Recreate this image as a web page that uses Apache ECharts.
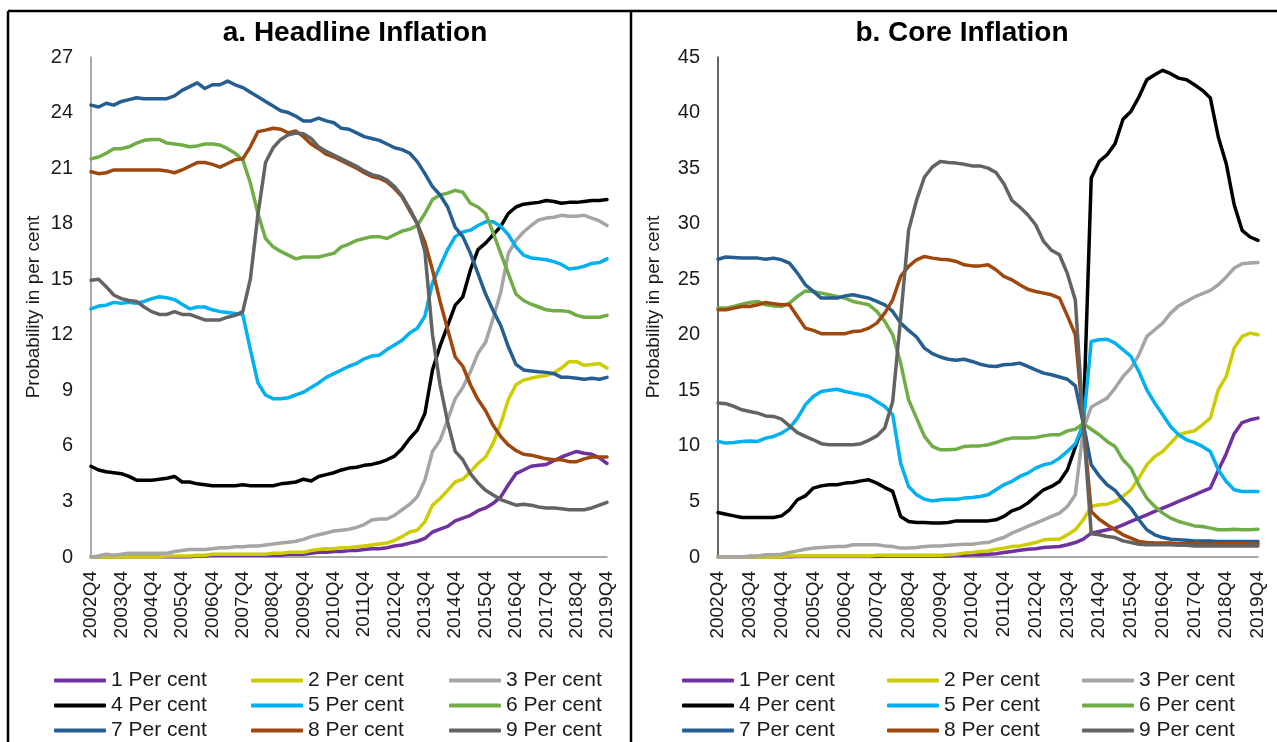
<!DOCTYPE html>
<html>
<head>
<meta charset="utf-8">
<title>Headline and Core Inflation</title>
<script src="https://cdn.jsdelivr.net/npm/echarts@6/dist/echarts.min.js"></script>
<style>
  html, body { margin: 0; padding: 0; background: #fff; }
  #chart { width: 1277px; height: 742px; }
</style>
</head>
<body>
<div id="chart"></div>
<script>
// quarters 2002Q4 .. 2019Q4
const quarters = ['2002Q4'];
for (let y = 2003; y <= 2019; y++) {
  for (let q = 1; q <= 4; q++) quarters.push(y + 'Q' + q);
}

const names = ['1 Per cent', '2 Per cent', '3 Per cent', '4 Per cent', '5 Per cent',
               '6 Per cent', '7 Per cent', '8 Per cent', '9 Per cent'];
const colors = ['#7030A0', '#CCCC00', '#A5A5A5', '#000000', '#00B0F0',
                '#70AD47', '#255E91', '#9E480E', '#636363'];

// a. Headline inflation
const head1 = [0,0,0,0,0,0,0,0,0,0,0,0,0,0,0.05,0.05,0.1,0.1,0.1,0.1,0.1,
  0.1,0.1,0.1,0.1,0.1,0.15,0.15,0.15,0.2,0.25,0.25,0.3,0.3,0.35,0.35,0.4,0.45,0.45,0.5,
  0.6,0.65,0.75,0.85,1.0,1.35,1.5,1.65,1.95,2.1,2.25,2.5,2.65,2.9,3.25,3.9,4.5,4.7,4.9,4.95,
  5.0,5.2,5.4,5.55,5.7,5.6,5.55,5.35,5.05];
const head2 = [0,0,0,0,0,0,0,0,0,0,0.05,0.05,0.05,0.05,0.1,0.1,0.15,0.15,0.15,0.15,0.15,
  0.15,0.15,0.15,0.2,0.2,0.25,0.25,0.25,0.35,0.4,0.45,0.45,0.5,0.5,0.55,0.6,0.65,0.7,0.75,
  0.9,1.1,1.35,1.45,1.9,2.8,3.15,3.6,4.05,4.2,4.6,5.05,5.4,6.15,7.2,8.5,9.3,9.55,9.65,9.75,
  9.8,9.95,10.2,10.55,10.55,10.35,10.4,10.45,10.2];
const head3 = [0,0.05,0.15,0.1,0.15,0.2,0.2,0.2,0.2,0.2,0.2,0.3,0.35,0.4,0.4,0.4,0.45,0.5,0.5,0.55,0.55,
  0.6,0.6,0.65,0.7,0.75,0.8,0.85,0.95,1.1,1.2,1.3,1.4,1.45,1.5,1.6,1.75,2.0,2.05,2.05,
  2.25,2.55,2.85,3.25,4.15,5.7,6.3,7.4,8.55,9.15,10.0,11.0,11.6,12.9,14.3,16.4,17.1,17.55,17.9,18.2,
  18.3,18.35,18.45,18.4,18.4,18.45,18.3,18.15,17.9];
const head4 = [4.9,4.7,4.6,4.55,4.5,4.35,4.15,4.15,4.15,4.2,4.25,4.35,4.05,4.05,3.95,3.9,3.85,3.85,3.85,3.85,3.9,
  3.85,3.85,3.85,3.85,3.95,4.0,4.05,4.2,4.1,4.35,4.45,4.55,4.7,4.8,4.85,4.95,5.0,5.1,5.25,
  5.45,5.85,6.4,6.85,7.75,10.1,11.4,12.5,13.6,14.05,15.5,16.6,16.95,17.4,17.85,18.55,18.9,19.05,19.1,19.15,
  19.25,19.2,19.1,19.15,19.15,19.2,19.25,19.25,19.3];
const head5 = [13.4,13.55,13.6,13.75,13.7,13.75,13.7,13.8,13.95,14.05,14.0,13.9,13.65,13.4,13.5,13.5,13.35,13.25,13.2,13.15,13.1,
  11.2,9.4,8.75,8.55,8.55,8.6,8.75,8.9,9.15,9.4,9.7,9.9,10.1,10.3,10.45,10.7,10.85,10.9,11.2,
  11.45,11.7,12.1,12.35,13.0,14.8,15.7,16.6,17.3,17.55,17.65,17.9,18.1,18.1,17.85,17.4,16.75,16.3,16.15,16.1,
  16.05,15.95,15.8,15.55,15.6,15.7,15.85,15.9,16.1];
const head6 = [21.5,21.6,21.8,22.05,22.05,22.15,22.35,22.5,22.55,22.55,22.35,22.3,22.25,22.15,22.2,22.3,22.3,22.25,22.05,21.8,21.45,
  20.2,18.55,17.2,16.75,16.5,16.3,16.1,16.2,16.2,16.2,16.3,16.4,16.75,16.9,17.1,17.2,17.3,17.3,17.2,
  17.4,17.6,17.7,17.9,18.55,19.3,19.55,19.65,19.8,19.7,19.1,18.9,18.55,17.5,16.4,15.3,14.2,13.85,13.65,13.5,
  13.35,13.3,13.3,13.25,13.05,12.95,12.95,12.95,13.05];
const head7 = [24.4,24.3,24.5,24.4,24.6,24.7,24.8,24.75,24.75,24.75,24.75,24.9,25.2,25.4,25.6,25.3,25.5,25.5,25.7,25.5,25.35,
  25.1,24.85,24.6,24.35,24.1,24.0,23.8,23.55,23.55,23.7,23.55,23.45,23.15,23.1,22.9,22.7,22.6,22.5,22.3,
  22.1,22.0,21.8,21.35,20.7,20.0,19.55,18.9,17.8,17.3,16.4,15.3,14.2,13.3,12.5,11.35,10.4,10.1,10.05,10.0,
  9.97,9.9,9.7,9.7,9.65,9.6,9.65,9.6,9.7];
const head8 = [20.8,20.7,20.75,20.9,20.9,20.9,20.9,20.9,20.9,20.9,20.85,20.75,20.9,21.1,21.3,21.3,21.2,21.05,21.25,21.45,21.5,
  22.15,22.97,23.05,23.15,23.1,22.9,23.0,22.7,22.3,22.05,21.75,21.6,21.4,21.2,21.0,20.75,20.55,20.45,20.25,
  19.9,19.45,18.7,18.0,17.0,15.5,13.8,12.3,10.8,10.3,9.3,8.5,7.9,7.1,6.5,6.05,5.75,5.55,5.5,5.4,
  5.3,5.25,5.25,5.15,5.15,5.3,5.4,5.4,5.4];
const head9 = [14.95,15.0,14.6,14.15,13.95,13.85,13.8,13.5,13.25,13.1,13.1,13.25,13.1,13.1,12.95,12.8,12.8,12.8,12.95,13.05,13.25,
  15.0,18.5,21.3,22.1,22.55,22.8,22.9,22.85,22.6,22.15,21.9,21.7,21.5,21.3,21.1,20.85,20.65,20.55,20.35,
  20.0,19.5,18.8,18.0,16.5,12.0,9.3,7.3,5.7,5.25,4.5,4.0,3.6,3.35,3.1,2.95,2.8,2.85,2.8,2.7,
  2.65,2.65,2.6,2.55,2.55,2.55,2.65,2.8,2.95];

// b. Core inflation
const core1 = [0,0,0,0,0,0,0,0,0,0,0.05,0.05,0.05,0.05,0.05,0.05,0.05,0.05,0.05,0.05,0.05,
  0.1,0.1,0.1,0.1,0.1,0.1,0.1,0.1,0.1,0.15,0.15,0.2,0.2,0.25,0.3,0.4,0.5,0.6,0.7,
  0.75,0.85,0.9,0.95,1.1,1.3,1.6,2.15,2.3,2.45,2.6,2.9,3.2,3.5,3.8,4.1,4.4,4.7,5.0,5.3,
  5.6,5.9,6.2,7.8,9.3,11.1,12.1,12.35,12.5];
const core2 = [0,0,0,0,0,0,0,0,0,0.1,0.1,0.1,0.1,0.1,0.1,0.1,0.1,0.1,0.1,0.1,0.15,
  0.15,0.15,0.15,0.15,0.15,0.15,0.15,0.15,0.2,0.25,0.35,0.4,0.5,0.55,0.7,0.8,0.95,1.0,1.15,
  1.3,1.55,1.6,1.6,2.0,2.45,3.35,4.55,4.7,4.75,5.0,5.45,6.05,7.1,8.3,9.05,9.5,10.25,11.0,11.2,
  11.35,11.9,12.5,15.05,16.25,18.8,19.85,20.15,20.0];
const core3 = [0,0,0,0,0.1,0.1,0.2,0.2,0.25,0.4,0.55,0.7,0.8,0.85,0.9,0.95,0.95,1.1,1.1,1.1,1.1,
  1.0,0.95,0.8,0.8,0.85,0.95,1.0,1.0,1.05,1.1,1.15,1.15,1.25,1.3,1.55,1.75,2.15,2.45,2.75,
  3.05,3.35,3.65,3.95,4.55,5.6,11.5,13.5,13.9,14.3,15.2,16.25,17.0,18.2,19.85,20.45,21.05,21.95,22.6,23.0,
  23.4,23.7,24.0,24.5,25.2,26.0,26.4,26.45,26.5];
const core4 = [4.0,3.85,3.7,3.55,3.55,3.55,3.55,3.55,3.7,4.25,5.15,5.5,6.2,6.4,6.5,6.5,6.65,6.7,6.85,6.95,6.65,
  6.25,5.9,3.65,3.2,3.1,3.1,3.05,3.05,3.1,3.25,3.25,3.25,3.25,3.25,3.35,3.65,4.15,4.4,4.85,
  5.45,6.05,6.35,6.8,7.85,9.9,12.0,34.1,35.6,36.2,37.2,39.4,40.1,41.4,42.95,43.4,43.8,43.5,43.1,42.95,
  42.5,42.0,41.3,37.8,35.4,31.7,29.4,28.8,28.5];
const core5 = [10.4,10.25,10.3,10.4,10.45,10.4,10.7,10.85,11.15,11.6,12.5,13.7,14.45,14.9,15.0,15.1,14.9,14.75,14.6,14.45,14.0,
  13.55,12.8,8.45,6.35,5.6,5.2,5.05,5.15,5.2,5.2,5.3,5.35,5.45,5.6,6.05,6.5,6.8,7.25,7.55,
  8.0,8.3,8.45,8.9,9.5,10.2,11.9,19.4,19.55,19.6,19.25,18.65,18.05,16.7,15.05,13.85,12.8,11.75,11.0,10.55,
  10.3,9.95,9.5,7.85,6.8,6.05,5.9,5.9,5.9];
const core6 = [22.4,22.4,22.55,22.75,22.9,23.0,22.7,22.6,22.55,22.85,23.45,23.95,23.9,23.75,23.6,23.45,23.3,23.0,22.85,22.7,22.1,
  21.2,20.0,17.45,14.15,12.5,10.85,9.95,9.65,9.65,9.7,9.95,10.0,10.0,10.1,10.3,10.55,10.7,10.7,10.7,
  10.75,10.9,11.0,11.0,11.35,11.5,12.0,11.5,11.0,10.4,9.95,8.75,8.0,6.5,5.3,4.55,3.95,3.5,3.2,3.0,
  2.8,2.75,2.6,2.45,2.45,2.5,2.45,2.45,2.5];
const core7 = [26.8,27.0,26.95,26.9,26.9,26.9,26.8,26.9,26.75,26.45,25.55,24.5,23.9,23.3,23.3,23.3,23.5,23.6,23.45,23.3,23.0,
  22.7,22.1,21.05,20.4,19.8,18.8,18.3,18.0,17.8,17.7,17.8,17.6,17.35,17.2,17.15,17.3,17.35,17.45,17.15,
  16.85,16.55,16.4,16.2,16.0,15.4,12.0,8.3,7.3,6.5,6.0,5.15,4.4,3.35,2.45,2.0,1.75,1.6,1.55,1.5,
  1.45,1.45,1.45,1.4,1.4,1.4,1.4,1.4,1.4];
const core8 = [22.25,22.25,22.4,22.55,22.55,22.7,22.9,22.8,22.7,22.7,21.65,20.6,20.4,20.1,20.1,20.1,20.1,20.3,20.35,20.6,21.05,
  21.95,23.15,25.25,26.15,26.75,27.05,26.9,26.8,26.75,26.6,26.3,26.2,26.2,26.3,25.85,25.25,24.95,24.5,24.1,
  23.9,23.75,23.6,23.3,21.7,20.0,12.0,4.1,3.4,2.9,2.45,2.0,1.7,1.4,1.3,1.25,1.25,1.25,1.2,1.2,
  1.2,1.2,1.2,1.2,1.2,1.2,1.2,1.2,1.2];
const core9 = [13.85,13.8,13.55,13.25,13.1,12.95,12.7,12.65,12.4,11.8,11.2,10.85,10.55,10.2,10.1,10.1,10.1,10.1,10.2,10.5,10.9,
  11.6,14.0,21.5,29.4,32.1,34.2,35.1,35.6,35.5,35.45,35.35,35.2,35.2,35.0,34.6,33.6,32.1,31.5,30.8,
  29.9,28.4,27.6,27.2,25.5,23.1,12.0,2.1,2.0,1.85,1.75,1.45,1.3,1.15,1.1,1.1,1.1,1.1,1.05,1.05,
  1.0,1.0,1.0,1.0,1.0,1.0,1.0,1.0,1.0];

const headline = [head1, head2, head3, head4, head5, head6, head7, head8, head9];
const core = [core1, core2, core3, core4, core5, core6, core7, core8, core9];

const font = 'Liberation Sans, Arial, sans-serif';
const txt = '#1a1a1a';

function xAxisFor(gridIndex) {
  return {
    type: 'category', gridIndex: gridIndex, data: quarters, boundaryGap: false,
    axisLine: { lineStyle: { color: '#8c8c8c', width: 1.5 } },
    axisTick: { show: false },
    axisLabel: { interval: 3, rotate: 90, margin: 14, fontSize: 19, color: txt, fontFamily: font }
  };
}
function yAxisFor(gridIndex, max, step, lineColor, gap) {
  return {
    type: 'value', gridIndex: gridIndex, min: 0, max: max, interval: step,
    name: 'Probability in per cent', nameLocation: 'middle', nameGap: gap, nameRotate: 90,
    nameTextStyle: { fontSize: 19, color: txt, fontFamily: font },
    axisLine: { show: true, lineStyle: { color: lineColor, width: 1.5 } },
    axisTick: { show: false },
    splitLine: { show: false },
    axisLabel: { fontSize: 20, color: txt, fontFamily: font, margin: 18 }
  };
}

const series = [];
[headline, core].forEach(function (panel, p) {
  panel.forEach(function (vals, k) {
    series.push({
      name: names[k], type: 'line', xAxisIndex: p, yAxisIndex: p,
      data: vals, symbol: 'none', smooth: false,
      lineStyle: { color: colors[k], width: 3.5, join: 'round', cap: 'round' },
      itemStyle: { color: colors[k] },
      emphasis: { disabled: true }
    });
  });
});

// one legend per item, 3 x 3 under each panel
const legends = [];
const colLeft = [[54, 251, 449], [682, 887, 1082]];
const rowTop = [670, 695, 720];
for (let p = 0; p < 2; p++) {
  for (let k = 0; k < 9; k++) {
    legends.push({
      data: [names[k]], left: colLeft[p][k % 3], top: rowTop[Math.floor(k / 3)],
      icon: 'roundRect', itemWidth: 52, itemHeight: 4, padding: 0,
      selectedMode: false,
      textStyle: { fontSize: 21, color: txt, fontFamily: font }
    });
  }
}

const chart = echarts.init(document.getElementById('chart'), null, { renderer: 'canvas' });
chart.setOption({
  animation: false,
  backgroundColor: '#ffffff',
  title: [
    { text: 'a. Headline Inflation', left: 350, top: 14, textAlign: 'center',
      textStyle: { fontSize: 28, fontWeight: 'bold', color: '#000', fontFamily: font } },
    { text: 'b. Core Inflation', left: 957, top: 14, textAlign: 'center',
      textStyle: { fontSize: 28, fontWeight: 'bold', color: '#000', fontFamily: font } }
  ],
  legend: legends,
  grid: [
    { left: 91, top: 57, width: 516, height: 500 },
    { left: 718, top: 57, width: 540, height: 500 }
  ],
  xAxis: [xAxisFor(0), xAxisFor(1)],
  yAxis: [yAxisFor(0, 27, 3, '#8c8c8c', 48), yAxisFor(1, 45, 5, '#333333', 55)],
  series: series,
  graphic: [
    { type: 'line', shape: { x1: 8, y1: 11, x2: 1277, y2: 11 }, style: { stroke: '#000', lineWidth: 2.5 } },
    { type: 'line', shape: { x1: 8, y1: 11, x2: 8, y2: 742 }, style: { stroke: '#000', lineWidth: 2.5 } },
    { type: 'line', shape: { x1: 631, y1: 11, x2: 631, y2: 742 }, style: { stroke: '#000', lineWidth: 2.5 } }
  ]
});

window.addEventListener('resize', function () { chart.resize(); });
</script>
</body>
</html>
